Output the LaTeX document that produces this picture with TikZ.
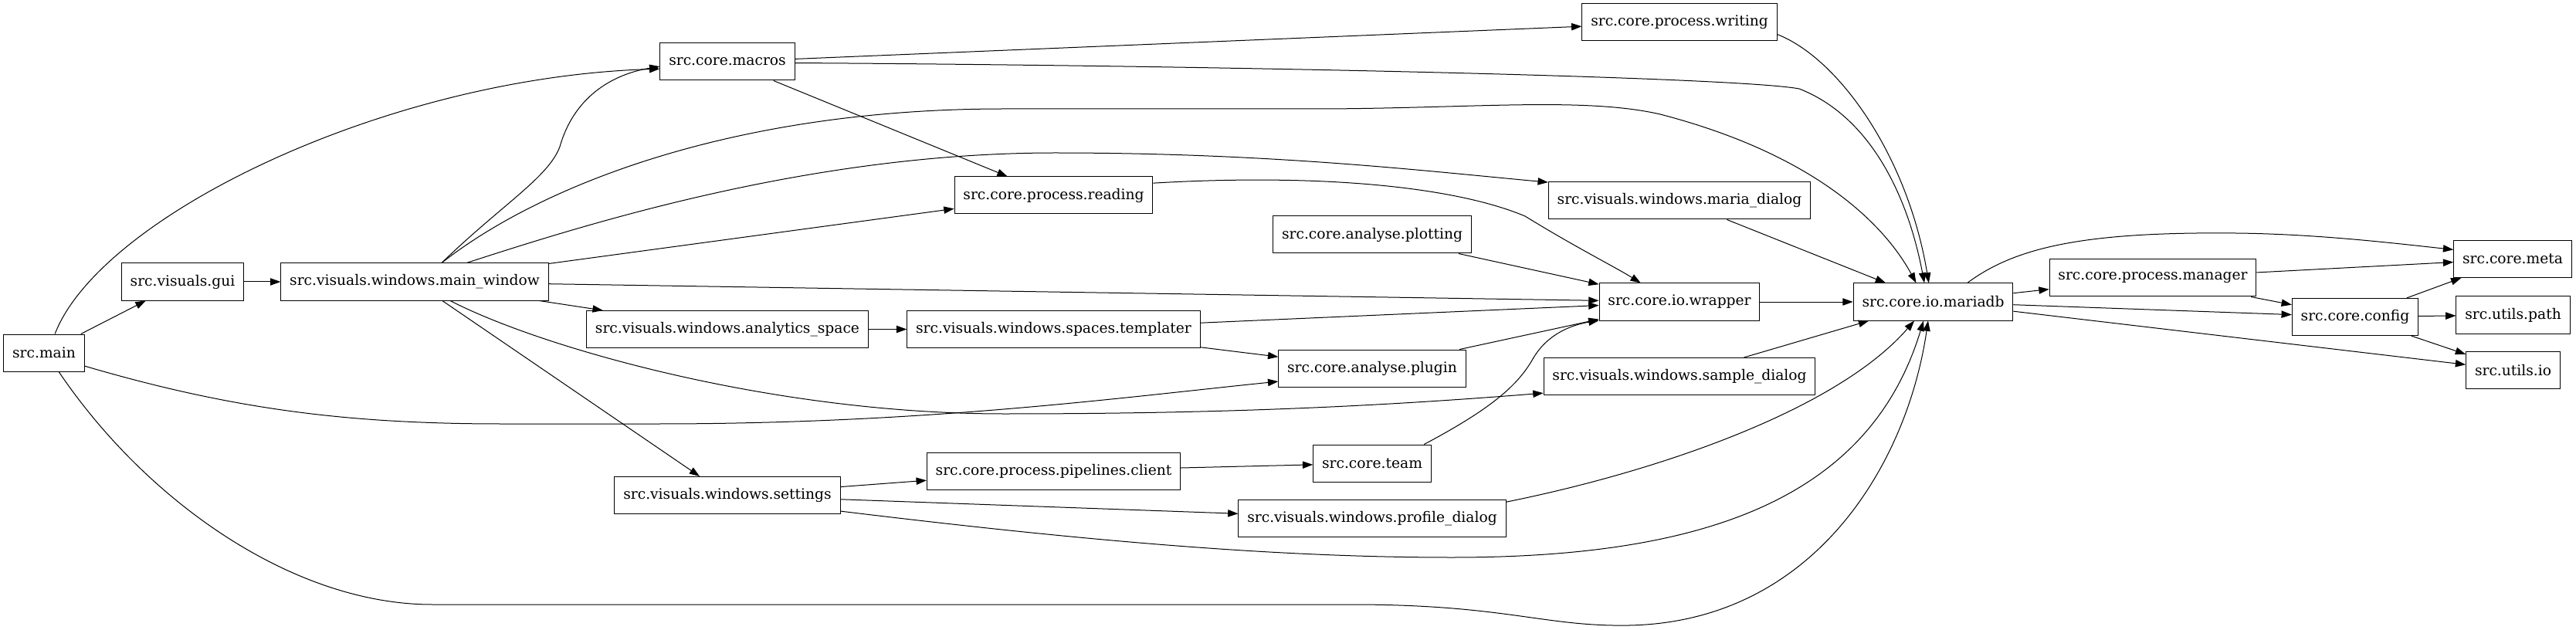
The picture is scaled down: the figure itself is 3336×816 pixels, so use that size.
\documentclass[tikz,border=0pt]{standalone}
\usepackage{fontspec}
\setmainfont{DejaVu Serif}
\usetikzlibrary{arrows.meta}

\begin{document}
\begin{tikzpicture}[x=0.75pt,y=0.75pt]
			\tikzstyle{every node}+=[inner sep=0pt]
			\tikzstyle{module}=[draw=black, line width=0.75pt, rectangle, minimum height=36pt, inner xsep=8.5pt, font=\fontsize{14}{16}\selectfont]
			\tikzstyle{dep}=[draw=black, line width=0.75pt, -{Triangle[length=10pt,width=7pt]}]
			\useasboundingbox (0,0) rectangle (3336,-816);
			\node [module] (main) at (57,-457) {src.main};
			\node [module] (gui) at (236.5,-365) {src.visuals.gui};
			\node [module] (mainwin) at (537,-365) {src.visuals.windows.main\_window};
			\node [module] (macros) at (942,-80) {src.core.macros};
			\node [module] (anaspace) at (942,-426.5) {src.visuals.windows.analytics\_space};
			\node [module] (settings) at (942,-641.5) {src.visuals.windows.settings};
			\node [module] (reading) at (1364.5,-253) {src.core.process.reading};
			\node [module] (templater) at (1364.5,-426.5) {src.visuals.windows.spaces.templater};
			\node [module] (client) at (1364.5,-610) {src.core.process.pipelines.client};
			\node [module] (plotting) at (1777,-304) {src.core.analyse.plotting};
			\node [module] (plugin) at (1777,-477) {src.core.analyse.plugin};
			\node [module] (team) at (1777,-600) {src.core.team};
			\node [module] (profile) at (1777,-671.5) {src.visuals.windows.profile\_dialog};
			\node [module] (writing) at (2175,-29) {src.core.process.writing};
			\node [module] (maria) at (2175,-260) {src.visuals.windows.maria\_dialog};
			\node [module] (wrapper) at (2175,-391) {src.core.io.wrapper};
			\node [module] (sample) at (2175,-487.5) {src.visuals.windows.sample\_dialog};
			\node [module] (mariadb) at (2503.5,-391) {src.core.io.mariadb};
			\node [module] (manager) at (2788,-360) {src.core.process.manager};
			\node [module] (config) at (3050,-410.5) {src.core.config};
			\node [module] (meta) at (3254,-335.5) {src.core.meta};
			\node [module] (upath) at (3254.5,-408) {src.utils.path};
			\node [module] (uio) at (3254.5,-479.5) {src.utils.io};
			\draw [dep] (main) -- (gui);
			\draw [dep] (main.60) .. controls (130,-280) and (500,-100) .. (macros.186);
			\draw [dep] (main.342) .. controls (300,-530) and (450,-549) .. (650,-549) -- (850,-549) .. controls (1200,-549) and (1450,-515) .. (plugin.188);
			\draw [dep] (main.308) .. controls (190,-650) and (380,-783) .. (560,-783) -- (1750,-783) .. controls (1950,-783) and (2000,-812) .. (2110,-810) .. controls (2350,-805) and (2470,-600) .. (mariadb.255);
			\draw [dep] (gui) -- (mainwin);
			\draw [dep] (mainwin.35) .. controls (650,-265) and (710,-230) .. (725,-190) .. controls (745,-120) and (800,-95) .. (macros.184);
			\draw [dep] (mainwin.35) .. controls (700,-240) and (950,-141) .. (1300,-141) -- (1700,-141) .. controls (1900,-141) and (2050,-125) .. (2150,-148) .. controls (2350,-200) and (2440,-290) .. (mariadb.132);
			\draw [dep] (mainwin.20) .. controls (760,-290) and (1050,-198) .. (1366,-198) .. controls (1650,-198) and (1850,-222) .. (maria.172);
			\draw [dep] (mainwin) -- (reading);
			\draw [dep] (mainwin) -- (wrapper);
			\draw [dep] (mainwin) -- (anaspace);
			\draw [dep] (mainwin.-28) .. controls (700,-450) and (1000,-536) .. (1300,-536) .. controls (1600,-536) and (1800,-525) .. (sample.187);
			\draw [dep] (mainwin) -- (settings);
			\draw [dep] (macros) -- (writing);
			\draw [dep] (macros.-1) .. controls (1600,-85) and (2250,-100) .. (2330,-115) .. controls (2420,-150) and (2470,-250) .. (mariadb.115);
			\draw [dep] (macros) -- (reading);
			\draw [dep] (reading.7) .. controls (1700,-225) and (1880,-240) .. (1975,-280) .. controls (2040,-320) and (2090,-345) .. (wrapper.154);
			\draw [dep] (anaspace) -- (templater);
			\draw [dep] (templater) -- (wrapper);
			\draw [dep] (templater) -- (plugin);
			\draw [dep] (settings) -- (client);
			\draw [dep] (settings) -- (profile);
			\draw [dep] (settings.-8) .. controls (1400,-700) and (1650,-722) .. (1880,-722) .. controls (2200,-722) and (2420,-650) .. (mariadb.243);
			\draw [dep] (plotting) -- (wrapper);
			\draw [dep] (plugin) -- (wrapper);
			\draw [dep] (client) -- (team);
			\draw [dep] (team.20) .. controls (1930,-530) and (1965,-500) .. (1985,-465) .. controls (2005,-430) and (2040,-420) .. (wrapper.193);
			\draw [dep] (profile.7) .. controls (2150,-610) and (2380,-530) .. (mariadb.225);
			\draw [dep] (writing.-7) .. controls (2380,-75) and (2470,-200) .. (mariadb.103);
			\draw [dep] (maria) -- (mariadb);
			\draw [dep] (wrapper) -- (mariadb);
			\draw [dep] (sample) -- (mariadb);
			\draw [dep] (mariadb.29) .. controls (2610,-320) and (2700,-300) .. (2895,-302) .. controls (3000,-303) and (3100,-315) .. (meta.171);
			\draw [dep] (mariadb) -- (manager);
			\draw [dep] (mariadb) -- (config);
			\draw [dep] (mariadb) -- (uio);
			\draw [dep] (manager) -- (meta);
			\draw [dep] (manager) -- (config);
			\draw [dep] (config) -- (meta);
			\draw [dep] (config) -- (upath);
			\draw [dep] (config) -- (uio);
\end{tikzpicture}
\end{document}
